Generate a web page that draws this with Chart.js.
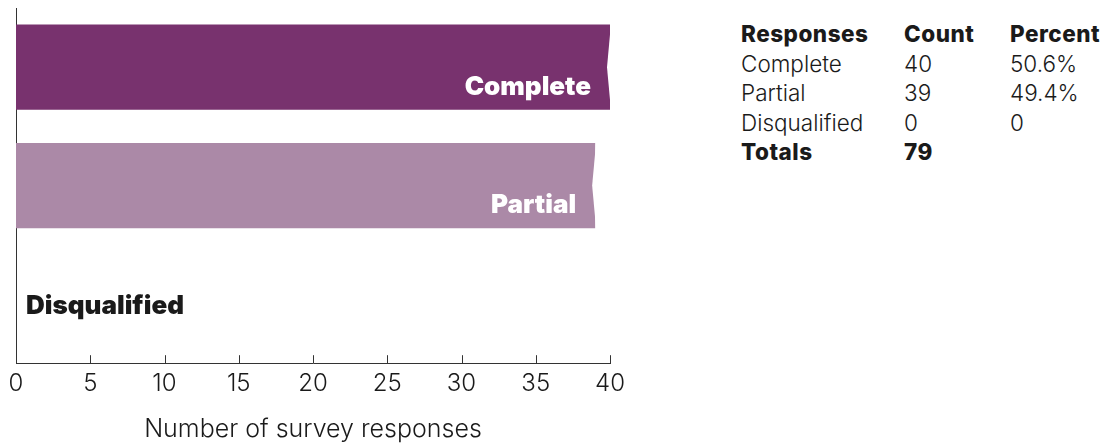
<!DOCTYPE html>
<html>
<head>
<meta charset="utf-8">
<script src="https://cdn.jsdelivr.net/npm/chart.js@4"></script>
<style>
  body { margin: 0; background: #fff; }
  #wrap { position: absolute; left: 0; top: 0; width: 640px; height: 445px; }
  #tbl { position: absolute; left: 741px; top: 19px; border-collapse: collapse;
         font-family: "Inter", sans-serif; font-size: 22.5px; font-weight: 300; color: #1a1a1a; }
  #tbl td { padding: 0; height: 29.5px; line-height: 29.5px; white-space: nowrap; }
  #tbl .c1 { width: 163px; }
  #tbl .c2 { width: 106px; }
  #tbl .b { font-weight: 800; letter-spacing: 0.5px; }
</style>
</head>
<body>
<div id="wrap"><canvas id="resp-chart"></canvas></div>
<table id="tbl"></table>
<script>
const categories = ["Complete", "Partial", "Disqualified"];
const counts = [40, 39, 0];
const percents = ["50.6%", "49.4%", "0"];
const bar_colors = ["#78326e", "#ab89a7", "#d8c6d5"];
const x_ticks = [0, 5, 10, 15, 20, 25, 30, 35, 40];

// table on the right
const tbl = document.getElementById("tbl");
let rows = `<tr class="b"><td class="c1">Responses</td><td class="c2">Count</td><td>Percent</td></tr>`;
categories.forEach((c, i) => {
  rows += `<tr><td>${c}</td><td>${counts[i]}</td><td>${percents[i]}</td></tr>`;
});
rows += `<tr class="b"><td>Totals</td><td>${counts.reduce((a, b) => a + b, 0)}</td><td></td></tr>`;
tbl.innerHTML = rows;

// inward tick marks on the x axis, torn bar ends, labels inside the bars
const extras = {
  id: "extras",
  afterDatasetsDraw(chart) {
    const ctx = chart.ctx;
    const xs = chart.scales.x;
    ctx.save();
    ctx.strokeStyle = "#333";
    ctx.lineWidth = 1;
    x_ticks.slice(1).forEach(v => {
      const px = Math.round(xs.getPixelForValue(v)) + 0.5;
      ctx.beginPath();
      ctx.moveTo(px, xs.top);
      ctx.lineTo(px, xs.top - 8);
      ctx.stroke();
    });
    const meta = chart.getDatasetMeta(0).data;
    // small notch on the right end of each bar
    ctx.fillStyle = "#fff";
    meta.forEach((bar, i) => {
      if (counts[i] <= 0) return;
      const top = bar.y - bar.height / 2, bot = bar.y + bar.height / 2;
      ctx.beginPath();
      ctx.moveTo(bar.x + 1, top - 1);
      ctx.lineTo(bar.x - 3, bar.y);
      ctx.lineTo(bar.x + 1, bot + 1);
      ctx.closePath();
      ctx.fill();
    });
    ctx.font = '900 26px "Inter", sans-serif';
    ctx.textBaseline = "middle";
    meta.forEach((bar, i) => {
      if (counts[i] > 0) {
        ctx.fillStyle = "#fff";
        ctx.textAlign = "right";
        ctx.fillText(categories[i], bar.x - 19, bar.y + 20);
      } else {
        ctx.fillStyle = "#1a1a1a";
        ctx.textAlign = "left";
        ctx.fillText(categories[i], bar.base + 10, bar.y + 2);
      }
    });
    ctx.restore();
  }
};

new Chart(document.getElementById("resp-chart"), {
  type: "bar",
  data: {
    labels: categories,
    datasets: [{
      data: counts,
      backgroundColor: bar_colors,
      borderWidth: 0,
      barPercentage: 0.8,
      categoryPercentage: 0.9
    }]
  },
  options: {
    indexAxis: "y",
    responsive: true,
    maintainAspectRatio: false,
    animation: false,
    layout: { padding: { left: 16, right: 30, top: 8, bottom: 1 } },
    plugins: {
      legend: { display: false },
      tooltip: { enabled: false }
    },
    scales: {
      x: {
        min: 0,
        max: 40,
        afterBuildTicks: axis => { axis.ticks = x_ticks.map(v => ({ value: v })); },
        grid: { display: false, drawTicks: false },
        border: { display: true, color: "#333", width: 1 },
        ticks: {
          padding: 6,
          color: "#1a1a1a",
          font: { family: "Inter", size: 24, weight: 300 }
        },
        title: {
          display: true,
          text: "Number of survey responses",
          color: "#1a1a1a",
          padding: { top: 10, bottom: 0 },
          font: { family: "Inter", size: 25, weight: 300 }
        }
      },
      y: {
        grid: { display: false, drawTicks: false },
        border: { display: true, color: "#333", width: 1 },
        ticks: { display: false }
      }
    }
  },
  plugins: [extras]
});
</script>
</body>
</html>
